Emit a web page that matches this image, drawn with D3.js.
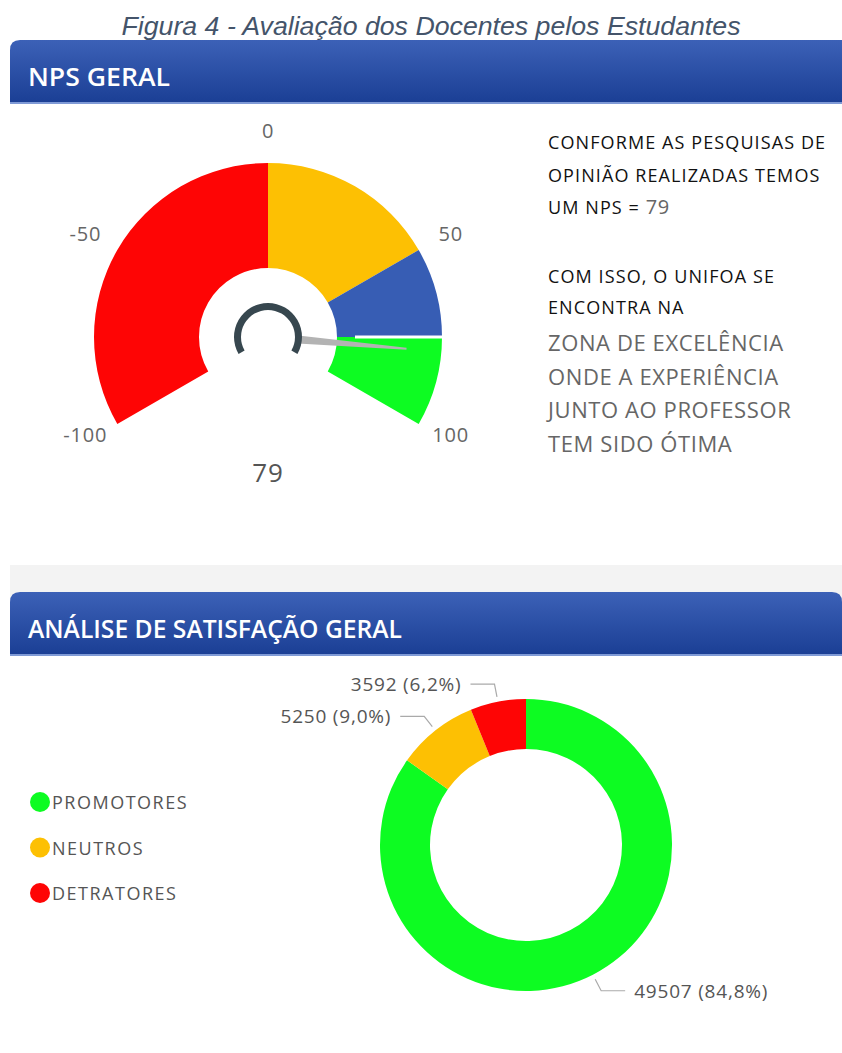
<!DOCTYPE html>
<html>
<head>
<meta charset="utf-8">
<script src="https://cdn.jsdelivr.net/npm/d3@7"></script>
<style>
  body { margin: 0; background: #fff; }
  svg { display: block; }
</style>
</head>
<body>
<svg id="chart"></svg>
<script>
// gauge data
var gaugeFrom = [-100, 0, 50, 75],
    gaugeTo = [0, 50, 75, 100],
    gaugeColors = ["#fe0505", "#fdc003", "#375db4", "#0dfc22"],
    gaugeTicks = [-100, -50, 0, 50, 100],
    npsValue = 79,
    targetValue = 75;

// donut data
var categories = ["PROMOTORES", "NEUTROS", "DETRATORES"],
    counts = [49507, 5250, 3592],
    catColors = ["#0dfc22", "#fdc003", "#fe0505"];

var infoLines1 = ["CONFORME AS PESQUISAS DE", "OPINIÃO REALIZADAS TEMOS", "UM NPS = "],
    infoLines2 = ["COM ISSO, O UNIFOA SE", "ENCONTRA NA"],
    infoLines3 = ["ZONA DE EXCELÊNCIA", "ONDE A EXPERIÊNCIA", "JUNTO AO PROFESSOR", "TEM SIDO ÓTIMA"];

var W = 842, H = 1053;
var svg = d3.select("#chart").attr("width", W).attr("height", H);
var font = "'Open Sans', 'Noto Sans', sans-serif";

var defs = svg.append("defs");
var grad = defs.append("linearGradient").attr("id", "barGrad")
    .attr("x1", 0).attr("y1", 0).attr("x2", 0).attr("y2", 1);
grad.append("stop").attr("offset", "0%").attr("stop-color", "#3c61b7");
grad.append("stop").attr("offset", "100%").attr("stop-color", "#1b3f95");

// title
svg.append("text")
    .attr("x", 431).attr("y", 35)
    .attr("text-anchor", "middle")
    .attr("textLength", 619).attr("lengthAdjust", "spacingAndGlyphs")
    .style("font-family", "'Liberation Sans', Arial, sans-serif")
    .style("font-style", "italic")
    .style("font-size", "25px")
    .attr("fill", "#44546a")
    .text("Figura 4 - Avaliação dos Docentes pelos Estudantes");

// panel gap
svg.append("rect").attr("x", 10).attr("y", 565).attr("width", W - 10).attr("height", 40)
    .attr("fill", "#f3f3f3");

function headerBar(y, label, tl, len) {
  var g = svg.append("g");
  var r = 10, x0 = 10, x1 = W + (tl ? 20 : 0), h = 62;
  g.append("path")
    .attr("d", "M" + x0 + "," + (y + h) + " L" + x0 + "," + (y + r) +
         " Q" + x0 + "," + y + " " + (x0 + r) + "," + y +
         " L" + (x1 - r) + "," + y + " Q" + x1 + "," + y + " " + x1 + "," + (y + r) +
         " L" + x1 + "," + (y + h) + " Z")
    .attr("fill", "url(#barGrad)");
  g.append("rect").attr("x", x0).attr("y", y + h).attr("width", W).attr("height", 2)
    .attr("fill", "#7f9ad6");
  g.append("text")
    .attr("x", 28).attr("y", y + 46)
    .attr("textLength", len).attr("lengthAdjust", "spacingAndGlyphs")
    .style("font-family", font)
    .style("font-weight", 600)
    .style("font-size", "25px")
    .attr("fill", "#fff")
    .text(label);
  return g;
}
headerBar(40, "NPS GERAL", true, 142);
headerBar(592, "ANÁLISE DE SATISFAÇÃO GERAL", false, 374);

// ---- gauge ----
var cx = 268, cy = 337, outerR = 174, innerR = 69;
var angle = d3.scaleLinear().domain([-100, 100]).range([-2 * Math.PI / 3, 2 * Math.PI / 3]);
var gauge = svg.append("g").attr("transform", "translate(" + cx + "," + cy + ")");

var bandArc = d3.arc().innerRadius(innerR).outerRadius(outerR)
    .startAngle(function(d) { return angle(d); })
    .endAngle(function(d, i) { return angle(gaugeTo[i]); });
gauge.selectAll("path.band").data(gaugeFrom).enter().append("path")
    .attr("class", "band")
    .attr("d", bandArc)
    .attr("fill", function(d, i) { return gaugeColors[i]; });

// target marker
var ta = angle(targetValue);
gauge.append("line")
    .attr("x1", 87 * Math.sin(ta)).attr("y1", -87 * Math.cos(ta))
    .attr("x2", (outerR + 1) * Math.sin(ta)).attr("y2", -(outerR + 1) * Math.cos(ta))
    .attr("stroke", "#fff").attr("stroke-width", 3);

// tick labels
gauge.selectAll("text.tick").data(gaugeTicks).enter().append("text")
    .attr("class", "tick")
    .attr("x", function(d) { return 211 * Math.sin(angle(d)); })
    .attr("y", function(d) { return -207 * Math.cos(angle(d)) - (Math.abs(d) === 100 ? 6 : 0); })
    .attr("text-anchor", "middle").attr("dominant-baseline", "central")
    .style("font-family", font).style("font-size", "20px")
    .style("letter-spacing", "0.8px")
    .attr("fill", "#666")
    .text(function(d) { return d; });

// needle
var na = angle(npsValue);
function pt(r, off) {
  return [r * Math.sin(na) + off * Math.cos(na), -r * Math.cos(na) + off * Math.sin(na)];
}
gauge.append("polygon")
    .attr("points", [pt(30, -4), pt(139, -1), pt(139, 1), pt(30, 4)].map(function(p) { return p.join(","); }).join(" "))
    .attr("fill", "#b3b3b3");

// hub ring
gauge.append("path")
    .attr("d", d3.arc().innerRadius(27).outerRadius(34).startAngle(angle(-100)).endAngle(angle(100))())
    .attr("fill", "#37474f");

svg.append("text")
    .attr("x", cx).attr("y", 472)
    .attr("text-anchor", "middle").attr("dominant-baseline", "central")
    .style("font-family", font).style("font-size", "26px")
    .style("letter-spacing", "1px")
    .attr("fill", "#555")
    .text(npsValue);

// ---- info text ----
var info = svg.append("g").style("font-family", font);
infoLines1.forEach(function(s, i) {
  var t = info.append("text").attr("x", 548).attr("y", 149 + i * 32.5)
      .style("font-size", "18px").style("letter-spacing", "1.1px")
      .attr("fill", "#111").text(s);
  if (i === 2) t.append("tspan").style("font-size", "20px").style("letter-spacing", "0.5px")
      .attr("fill", "#666").text(npsValue);
});
infoLines2.forEach(function(s, i) {
  info.append("text").attr("x", 548).attr("y", 283 + i * 31)
      .style("font-size", "18px").style("letter-spacing", "1.1px")
      .attr("fill", "#111").text(s);
});
infoLines3.forEach(function(s, i) {
  info.append("text").attr("x", 548).attr("y", 351 + i * 33.5)
      .style("font-size", "22px").style("letter-spacing", "0.6px")
      .attr("fill", "#666").text(s);
});

// ---- donut ----
var dcx = 526, dcy = 845, dOuter = 146, dInner = 96;
var total = d3.sum(counts);
var pie = d3.pie().sort(null).value(function(d) { return d; });
var arcs = pie(counts);
var donut = svg.append("g").attr("transform", "translate(" + dcx + "," + dcy + ")");
donut.selectAll("path").data(arcs).enter().append("path")
    .attr("d", d3.arc().innerRadius(dInner).outerRadius(dOuter))
    .attr("fill", function(d, i) { return catColors[i]; });

var fmtPct = function(v) { return d3.format(".1f")(v * 100).replace(".", ",") + "%"; };
arcs.forEach(function(d, i) {
  var mid = (d.startAngle + d.endAngle) / 2;
  var right = Math.sin(mid) > 0;
  var p1 = [(dOuter + 5) * Math.sin(mid), -(dOuter + 5) * Math.cos(mid)];
  var p2 = [(dOuter + 18) * Math.sin(mid), -(dOuter + 18) * Math.cos(mid)];
  var p3 = [p2[0] + (right ? 24 : -24), p2[1]];
  donut.append("polyline")
      .attr("points", [p1, p2, p3].map(function(p) { return p.join(","); }).join(" "))
      .attr("fill", "none").attr("stroke", "#aaa").attr("stroke-width", 1.2);
  donut.append("text")
      .attr("x", p3[0] + (right ? 9 : -9)).attr("y", p3[1])
      .attr("text-anchor", right ? "start" : "end").attr("dominant-baseline", "central")
      .style("font-family", font).style("font-size", "19px")
      .style("letter-spacing", "0.8px")
      .attr("fill", "#555")
      .text(counts[i] + " (" + fmtPct(counts[i] / total) + ")");
});

// legend
var legend = svg.append("g");
categories.forEach(function(c, i) {
  legend.append("circle").attr("cx", 40).attr("cy", 802 + i * 45.5).attr("r", 10)
      .attr("fill", catColors[i]);
  legend.append("text").attr("x", 52).attr("y", 802 + i * 45.5)
      .attr("dominant-baseline", "central")
      .style("font-family", font).style("font-size", "18px")
      .style("letter-spacing", "1.5px")
      .attr("fill", "#555").text(c);
});
</script>
</body>
</html>
